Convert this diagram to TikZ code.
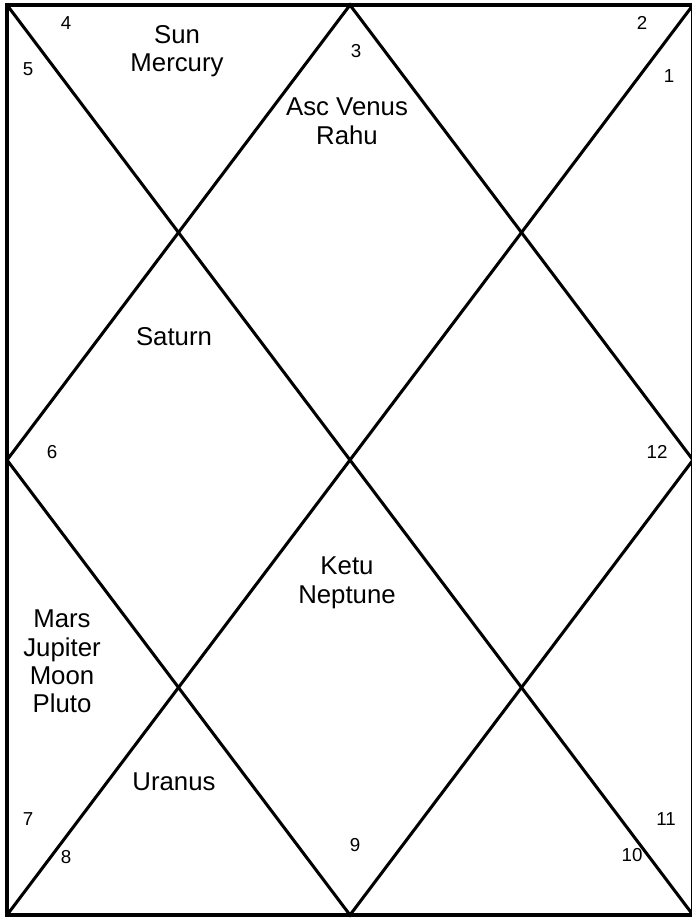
\documentclass[tikz,border=0pt]{standalone}
\usepackage{fontspec}
\setmainfont{Liberation Sans}
\usetikzlibrary{positioning}
\tikzset{
  frameline/.style={line width=3.2pt},
  chartline/.style={line width=2.6pt},
  housenum/.style={font=\fontsize{16}{18}\selectfont, inner sep=0pt},
  planets/.style={font=\fontsize{22}{24}\selectfont, inner sep=0pt,
                  anchor=north, align=center}
}

\begin{document}
\begin{tikzpicture}[x=0.03cm, y=-0.03cm]
\useasboundingbox (0,0) rectangle (691,920);

% --- Corners and midpoints of the chart ---
\coordinate (tl) at (7,5);
\coordinate (tr) at (693,5);
\coordinate (bl) at (7,915);
\coordinate (br) at (693,915);
\coordinate (tm) at (350,5);
\coordinate (rm) at (693,460);
\coordinate (bm) at (350,915);
\coordinate (lm) at (7,460);

% --- Frame, diagonals and inner diamond ---
\draw[frameline] (tl) rectangle (br);
\draw[chartline] (tl) -- (br);
\draw[chartline] (tr) -- (bl);
\draw[chartline] (tm) -- (rm) -- (bm) -- (lm) -- cycle;

% --- Sign numbers ---
\node[housenum] (n1) at (669,76) {1};
\node[housenum] (n2) at (642,23) {2};
\node[housenum] (n3) at (356,51) {3};
\node[housenum] (n4) at (66,23) {4};
\node[housenum] (n5) at (28,69) {5};
\node[housenum] (n6) at (52,452) {6};
\node[housenum] (n7) at (28,819) {7};
\node[housenum] (n8) at (66,857) {8};
\node[housenum] (n9) at (355,845) {9};
\node[housenum] (n10) at (632,855) {10};
\node[housenum] (n11) at (666,819) {11};
\node[housenum] (n12) at (657,452) {12};

% --- Planets ---
\node[planets] (sunmerc) at (177,25) {Sun\\Mercury};
\node[planets] (ascven) at (347,98) {Asc Venus\\Rahu};
\node[planets] (saturn) at (174,327) {Saturn};
\node[planets] (ketunep) at (347,557) {Ketu\\Neptune};
\node[planets] (marsjup) at (62,610) {Mars\\Jupiter\\Moon\\Pluto};
\node[planets] (uranus) at (174,773) {Uranus};

\end{tikzpicture}
\end{document}
